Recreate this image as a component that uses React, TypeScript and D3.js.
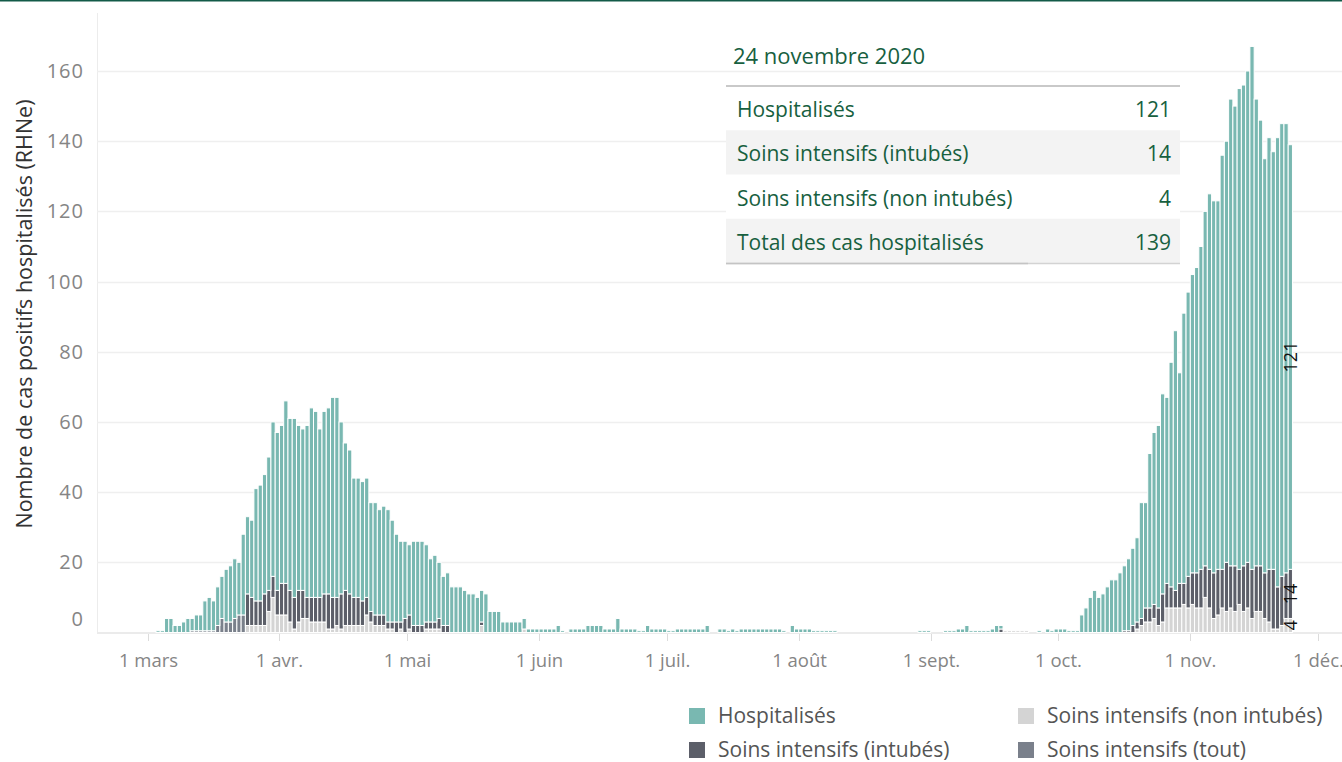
import React from 'react';
import * as d3 from 'd3';

// one value per day from 1 mars 2020 to 24 novembre 2020
const startDate = '2020-03-01';

const hospitalises = [
  // mars
  0, 0, 0.5, 0.5, 4, 4, 2, 2, 3, 4, 3.5, 4.5, 4.5, 8.5, 9.5, 8.5, 11, 12, 15, 16, 17, 15, 23, 22, 22, 32, 33, 34, 38, 44, 45,
  // avril
  45, 52, 49, 51, 47, 46, 49, 54, 53, 48, 52, 53, 57, 57, 49, 42, 41, 34, 34, 34, 34, 31, 32, 30, 31, 32, 29, 25, 23, 22,
  // mai
  20, 24, 24, 24, 22, 18, 19, 16, 14, 15, 13, 13, 13, 12, 11, 11, 10, 9, 11, 6, 6, 6, 3, 3, 3, 3, 3, 3, 1, 1, 1,
  // juin
  1, 1, 1, 1, 2, 0.5, 0, 1, 1, 1, 1, 2, 2, 2, 2, 1, 1, 1, 4, 1, 1, 1, 1, 0.5, 0.5, 2, 1, 1, 1, 1,
  // juillet
  0.5, 0.5, 1, 1, 1, 1, 1, 1, 1, 2, 0, 0, 1, 1, 0.5, 1, 0.5, 1, 1, 1, 1, 1, 1, 1, 1, 1, 1, 0.5, 0, 2, 1,
  // août
  1, 1, 1, 0.5, 0.5, 0.5, 0.5, 0.5, 0.5, 0, 0, 0, 0, 0, 0, 0, 0, 0, 0, 0, 0, 0, 0, 0, 0, 0, 0, 0, 0.5, 0.5, 0.5,
  // septembre
  0, 0, 0, 0.5, 0.5, 0.5, 1, 1, 2, 0.5, 0.5, 0.5, 0.5, 0.5, 1, 2, 1, 0, 0, 0, 0, 0, 0, 0, 0, 0.5, 0, 1, 0.5, 1,
  // octobre
  1, 1, 0.5, 0.5, 0.5, 5, 7, 10, 12, 10, 11, 13, 15, 15, 17, 18.5, 20.5, 22, 24, 33, 30, 44, 49, 52, 57, 53, 64, 74, 60, 77, 81,
  // novembre
  85, 87, 92, 101, 107, 106, 105, 118, 120, 133, 131, 137, 137, 140, 149, 133, 127, 118, 123, 119, 128, 129, 128, 121,
];

const intubes = [
  0, 0, 0, 0, 0, 0, 0, 0, 0, 0, 0, 0, 0, 0, 0, 0, 0, 0, 0, 0, 0, 0, 0, 9, 8, 7, 7, 9, 6, 6, 7,
  9, 9, 9, 9, 9, 8, 6, 7, 7, 7, 8, 10, 9, 8, 10, 10, 9, 8, 8, 7, 5, 3, 3, 3, 3, 2, 2, 3, 2, 4,
  4, 2, 2, 2, 2, 2, 2, 3, 2, 2, 0, 0, 0, 0, 0, 0, 0, 1, 0, 0, 0, 0, 0, 0, 0, 0, 0, 0, 0, 0, 0,
  0, 0, 0, 0, 0, 0, 0, 0, 0, 0, 0, 0, 0, 0, 0, 0, 0, 0, 0, 0, 0, 0, 0, 0, 0, 0, 0, 0, 0, 0,
  0, 0, 0, 0, 0, 0, 0, 0, 0, 0, 0, 0, 0, 0, 0, 0, 0, 0, 0, 0, 0, 0, 0, 0, 0, 0, 0, 0, 0, 0, 0,
  0, 0, 0, 0, 0, 0, 0, 0, 0, 0, 0, 0, 0, 0, 0, 0, 0, 0, 0, 0, 0, 0, 0, 0, 0, 0, 0, 0, 0, 0, 0,
  0, 0, 0, 0, 0, 0, 0, 0, 0, 0, 0, 0, 0, 0, 0, 0, 1, 0, 0, 0, 0, 0, 0, 0, 0, 0, 0, 0, 0, 0,
  0, 0, 0, 0, 0, 0, 0, 0, 0, 0, 0, 0, 0, 0, 0, 0.5, 0.5, 2, 2, 2, 4, 4, 4, 5, 8, 7, 6, 5, 7, 6, 9,
  9, 10, 11, 9, 11, 13, 13, 11, 14, 12, 13, 10, 13, 13, 14, 13, 13, 13, 15, 17, 12, 14, 13, 14,
];

const nonIntubes = [
  0, 0, 0, 0, 0, 0, 0, 0, 0, 0, 0, 0, 0, 0, 0, 0, 0, 0, 0, 0, 0, 0, 0, 2, 2, 2, 2, 2, 6, 10, 5,
  5, 5, 3, 1, 3, 4, 4, 3, 3, 3, 3, 1, 1, 2, 1, 2, 2, 2, 2, 2, 5, 3, 2, 2, 2, 1, 1, 0, 1, 0,
  1, 0, 0, 0, 1, 1, 1, 1, 0, 0, 0, 0, 0, 0, 0, 0, 0, 2, 0, 0, 0, 0, 0, 0, 0, 0, 0, 1, 0, 0, 0,
  0, 0, 0, 0, 0, 0, 0, 0, 0, 0, 0, 0, 0, 0, 0, 0, 0, 0, 0, 0, 0, 0, 0, 0, 0, 0, 0, 0, 0, 0,
  0, 0, 0, 0, 0, 0, 0, 0, 0, 0, 0, 0, 0, 0, 0, 0, 0, 0, 0, 0, 0, 0, 0, 0, 0, 0, 0, 0, 0, 0, 0,
  0, 0, 0, 0, 0, 0, 0, 0, 0, 0, 0, 0, 0, 0, 0, 0, 0, 0, 0, 0, 0, 0, 0, 0, 0, 0, 0, 0, 0, 0, 0,
  0, 0, 0, 0, 0, 0, 0, 0, 0, 0, 0, 0, 0, 0, 0, 0, 0, 0.5, 0.5, 0.5, 0.5, 0.5, 0.5, 0, 0, 0, 0, 0, 0, 0,
  0, 0, 0, 0, 0, 0, 0, 0, 0, 0, 0, 0, 0, 0, 0, 0, 0, 0, 1, 2, 3, 3, 4, 2, 3, 7, 7, 7, 7, 8, 7,
  8, 7, 7, 10, 7, 4, 5, 7, 6, 7, 6, 8, 6, 7, 4, 6, 6, 4, 3, 1, 1, 2, 4, 4,
];

// soins intensifs sans distinction (début mars seulement)
const siTout = [
  0, 0, 0, 0, 0, 0, 0, 0, 0, 0, 0.5, 0.5, 0.5, 0.5, 0.5, 0.5, 2, 4, 3, 3, 4, 5, 5, 0, 0, 0, 0, 0, 0, 0, 0,
];

const yTicks = [0, 20, 40, 60, 80, 100, 120, 140, 160];
const monthTicks = ['2020-03-01', '2020-04-01', '2020-05-01', '2020-06-01', '2020-07-01', '2020-08-01', '2020-09-01', '2020-10-01', '2020-11-01', '2020-12-01'];
const monthLabels = ['1 mars', '1 avr.', '1 mai', '1 juin', '1 juil.', '1 août', '1 sept.', '1 oct.', '1 nov.', '1 déc.'];

const seriesKeys = ['siTout', 'nonIntubes', 'intubes', 'hospitalises'];
const seriesColors: Record<string, string> = {
  hospitalises: '#79b8b1',
  intubes: '#5c5f69',
  nonIntubes: '#d4d4d4',
  siTout: '#7a808b',
};
const legendItems = [
  { key: 'hospitalises', label: 'Hospitalisés' },
  { key: 'nonIntubes', label: 'Soins intensifs (non intubés)' },
  { key: 'intubes', label: 'Soins intensifs (intubés)' },
  { key: 'siTout', label: 'Soins intensifs (tout)' },
];

const tooltipDate = '24 novembre 2020';
const yTitle = 'Nombre de cas positifs hospitalisés (RHNe)';

const W = 1342;
const H = 762;
const FONT = "'Open Sans', 'Noto Sans', sans-serif";
const GREEN = '#17603f';

const App = () => {
  const start = d3.utcParse('%Y-%m-%d')(startDate) as Date;
  const rows = hospitalises.map((v, i) => ({
    date: d3.utcDay.offset(start, i),
    hospitalises: v,
    intubes: intubes[i] || 0,
    nonIntubes: nonIntubes[i] || 0,
    siTout: siTout[i] || 0,
  }));

  const x = d3
    .scaleUtc()
    .domain([new Date(Date.UTC(2020, 2, 1)), new Date(Date.UTC(2020, 11, 1))])
    .range([147.5, 1318]);
  const y = d3.scaleLinear().domain([0, 160]).range([632.5, 71]);

  const stack = d3.stack<any>().keys(seriesKeys)(rows);

  const last = rows[rows.length - 1];
  const lastTotal = last.hospitalises + last.intubes + last.nonIntubes;
  const tooltipRows = [
    ['Hospitalisés', last.hospitalises],
    ['Soins intensifs (intubés)', last.intubes],
    ['Soins intensifs (non intubés)', last.nonIntubes],
    ['Total des cas hospitalisés', lastTotal],
  ];

  const lastX0 = x(last.date);
  const lastX1 = x(d3.utcDay.offset(last.date, 1));
  const lastCx = (lastX0 + lastX1) / 2;
  const lastLabels = stack
    .filter((s) => s.key !== 'siTout')
    .map((s) => {
      const seg = s[s.length - 1];
      return { v: seg[1] - seg[0], mid: (seg[0] + seg[1]) / 2 };
    });

  const parse = d3.utcParse('%Y-%m-%d');

  return (
    <div style={{ position: 'fixed', left: 0, top: 0, width: W, height: H, background: '#fff' }}>
      <svg width={W} height={H} style={{ display: 'block', fontFamily: FONT }}>
        <line x1={0} x2={W} y1={0.75} y2={0.75} stroke="#135a48" strokeWidth={1.5} />

        {/* grille */}
        <line x1={97.5} x2={97.5} y1={13} y2={632} stroke="#ececec" strokeWidth={1} />
        {yTicks.filter((t) => t > 0).map((t) => (
          <line key={t} x1={97} x2={W} y1={Math.round(y(t)) + 0.5} y2={Math.round(y(t)) + 0.5} stroke="#efefef" strokeWidth={1.5} />
        ))}
        <line x1={97} x2={W} y1={633} y2={633} stroke="#e4e4e4" strokeWidth={1.5} />

        {/* axe y */}
        {yTicks.map((t) => (
          <text key={t} x={84} y={t === 0 ? 626 : y(t) + 7} textAnchor="end" fontSize={20} letterSpacing={1} fill="#858585">
            {t}
          </text>
        ))}
        <text transform="translate(24,314) rotate(-90)" dy="0.35em" textAnchor="middle" fontSize={21.5} fill="#333">
          {yTitle}
        </text>

        {/* axe x */}
        {monthTicks.map((m, i) => {
          const px = Math.round(x(parse(m) as Date)) + 0.5;
          return (
            <g key={m}>
              <line x1={px} x2={px} y1={634} y2={641} stroke="#dcdcdc" strokeWidth={1} />
              <text x={px} y={667} textAnchor="middle" fontSize={18.5} fill="#858585">
                {monthLabels[i]}
              </text>
            </g>
          );
        })}

        {/* barres */}
        {stack.map((layer) => (
          <g key={layer.key} fill={seriesColors[layer.key]} stroke="#fff" strokeWidth={1}>
            {layer.map((seg, i) => {
              if (seg[1] - seg[0] <= 0) return null;
              const d = rows[i].date;
              const x0 = x(d);
              const x1 = x(d3.utcDay.offset(d, 1));
              return <rect key={i} x={x0} width={x1 - x0} y={y(seg[1])} height={y(seg[0]) - y(seg[1])} />;
            })}
          </g>
        ))}

        {/* étiquettes de la dernière barre */}
        {lastLabels.map((l, i) => (
          <text
            key={i}
            transform={`translate(${lastCx},${y(l.mid)}) rotate(-90)`}
            dy="0.35em"
            textAnchor="middle"
            fontSize={18}
            fill="#111"
          >
            {l.v}
          </text>
        ))}

        {/* infobulle */}
        <text x={733} y={64} fontSize={22} fill={GREEN}>
          {tooltipDate}
        </text>
        <rect x={726} y={86} width={454} height={177} fill="#fff" />
        {tooltipRows.map((r, i) => {
          const top = 86 + i * 44.25;
          return (
            <g key={i}>
              {i % 2 === 1 && <rect x={726} y={top} width={454} height={44.25} fill="#f3f3f3" />}
              <text x={737} y={top + 31} fontSize={21} fill={GREEN}>
                {r[0]}
              </text>
              <text x={1171} y={top + 31} textAnchor="end" fontSize={21} fill={GREEN}>
                {r[1]}
              </text>
            </g>
          );
        })}
        <line x1={726} x2={1180} y1={86} y2={86} stroke="#c9c9c9" strokeWidth={2} />
        <line x1={726} x2={1180} y1={263.5} y2={263.5} stroke="#d3d3d3" strokeWidth={1.5} />
        <line x1={726} x2={1028} y1={263.5} y2={263.5} stroke="#c4c4c4" strokeWidth={1.5} />

        {/* légende */}
        {legendItems.map((it, i) => {
          const col = i % 2;
          const row = Math.floor(i / 2);
          const lx = col === 0 ? 689 : 1018;
          const cy = 716 + row * 34;
          return (
            <g key={it.key}>
              <rect x={lx} y={cy - 8} width={16} height={16} fill={seriesColors[it.key]} />
              <text x={lx + 29} y={cy + 7} fontSize={21} fill="#555">
                {it.label}
              </text>
            </g>
          );
        })}
      </svg>
    </div>
  );
};

export default App;
